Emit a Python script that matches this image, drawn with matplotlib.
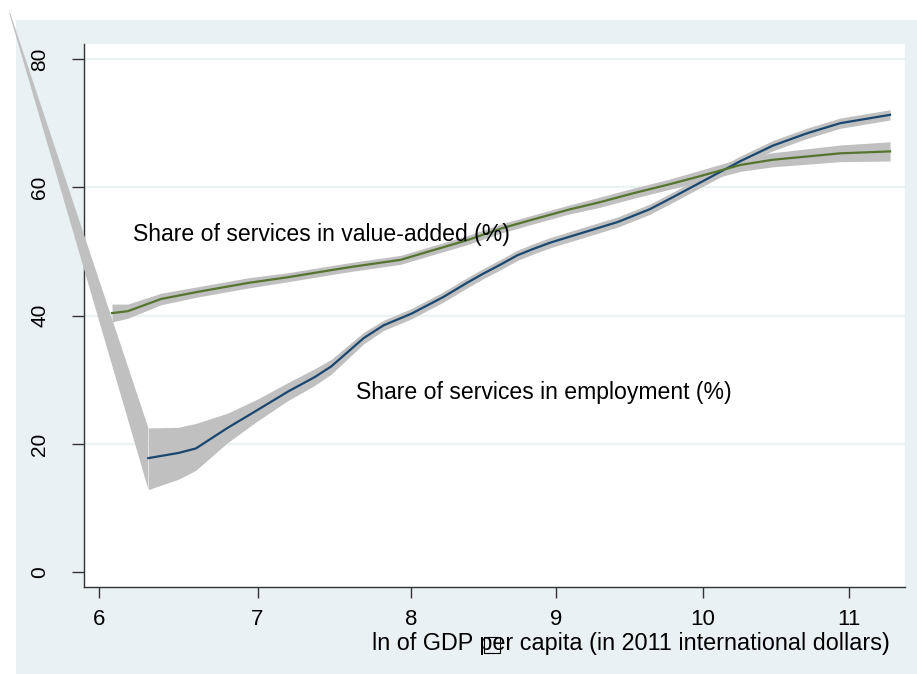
import numpy as np
import matplotlib.pyplot as plt
from matplotlib.patches import Rectangle

plt.rcParams['font.family'] = ['Liberation Sans', 'DejaVu Sans']

# tick positions of the original x axis are not evenly spaced
x_ticks = [6, 7, 8, 9, 10, 11]
x_knots = [5, 6, 7, 8, 9, 10, 11, 12]
x_pos = [-60.1, 98.3, 256.7, 410.7, 556.0, 702.3, 849.0, 995.7]

# share of services in employment (%)
emp_x = [6.31, 6.50, 6.61, 6.81, 7.00, 7.20, 7.37, 7.48, 7.69, 7.82, 8.00, 8.22,
         8.39, 8.50, 8.61, 8.73, 8.84, 8.96, 9.19, 9.42, 9.64, 9.80, 10.03,
         10.26, 10.48, 10.71, 10.94, 11.28]
emp_y = [17.8, 18.6, 19.3, 22.5, 25.3, 28.2, 30.4, 32.1, 36.5, 38.5, 40.3, 42.9,
         45.2, 46.6, 47.9, 49.4, 50.4, 51.4, 53.0, 54.6, 56.6, 58.5, 61.3,
         64.1, 66.5, 68.4, 70.0, 71.3]
emp_se_lo = [4.9, 4.1, 3.4, 2.3, 1.7, 1.4, 1.3, 1.2, 0.9, 0.8, 0.8, 0.8,
             0.8, 0.8, 0.8, 0.8, 0.8, 0.8, 0.8, 0.8, 0.8, 0.8, 0.8,
             0.8, 0.8, 0.8, 0.8, 0.8]
emp_se_hi = [4.7, 4.0, 3.9, 2.3, 1.7, 1.4, 1.3, 1.1, 0.9, 0.8, 0.8, 0.8,
             0.8, 0.8, 0.8, 0.8, 0.8, 0.8, 0.8, 0.8, 0.8, 0.8, 0.8,
             0.8, 0.8, 0.8, 0.8, 0.8]

# left tail of the employment confidence band (upper and lower edge)
tail_x_hi = [5.436, 6.31]
tail_hi = [87.2, 22.5]
tail_x_lo = [5.430, 6.31]
tail_lo = [87.2, 12.9]

# share of services in value-added (%)
va_x = [6.08, 6.18, 6.39, 6.62, 6.94, 7.20, 7.48, 7.61, 7.93, 8.15, 8.39,
        8.62, 8.84, 9.08, 9.30, 9.53, 9.76, 9.96, 10.26, 10.48, 10.71,
        10.94, 11.28]
va_y = [40.4, 40.7, 42.6, 43.7, 45.1, 46.0, 47.1, 47.6, 48.7, 50.2, 51.8,
        53.6, 55.0, 56.5, 57.7, 59.1, 60.4, 61.6, 63.5, 64.3, 64.8,
        65.3, 65.6]
va_se = [1.4, 1.1, 0.9, 0.8, 0.8, 0.7, 0.7, 0.7, 0.7, 0.7, 0.7,
         0.7, 0.7, 0.7, 0.8, 0.8, 0.8, 0.9, 1.0, 1.1, 1.2,
         1.3, 1.5]

y_ticks = [0, 20, 40, 60, 80]
grid_y = [20, 40, 60, 80]


def fwd(v):
    return np.interp(v, x_knots, x_pos)


def inv(p):
    return np.interp(p, x_pos, x_knots)


bg = '#E9F1F3'
band = '#C0C0C0'
fig = plt.figure(figsize=(9.17, 6.74), dpi=100, facecolor='white')
fig.patches.append(Rectangle((16 / 917, 0), 1, (674 - 20) / 674,
                             transform=fig.transFigure, facecolor=bg,
                             edgecolor='none', zorder=-5))

ax = fig.add_axes([84 / 917, 87 / 674, 821 / 917, 543 / 674])
ax.set_facecolor('white')
ax.set_xscale('function', functions=(fwd, inv))
ax.set_xlim(5.903, 11.382)
ax.set_ylim(-2.29, 82.34)

# confidence bands
ax.fill(tail_x_hi + tail_x_lo[::-1], tail_hi + tail_lo[::-1], color=band,
        lw=0, clip_on=False, zorder=3)
emp_lo = np.array(emp_y) - np.array(emp_se_lo)
emp_hi = np.array(emp_y) + np.array(emp_se_hi)
ax.fill_between(emp_x, emp_lo, emp_hi, color=band, lw=0, zorder=3)
va_lo = np.array(va_y) - np.array(va_se)
va_hi = np.array(va_y) + np.array(va_se)
ax.fill_between(va_x, va_lo, va_hi, color=band, lw=0, zorder=3)

ax.plot(emp_x, emp_y, color='#1A476F', lw=1.6, zorder=4)
ax.plot(va_x, va_y, color='#55752F', lw=1.6, zorder=4)

for yv in grid_y:
    ax.axhline(yv, color='#EAF2F3', lw=1.6, zorder=1)

ax.text(6.21, 52.6, 'Share of services in value-added (%)', fontsize=16.6,
        va='center', ha='left', zorder=5)
ax.text(7.64, 28.1, 'Share of services in employment (%)', fontsize=16.6,
        va='center', ha='left', zorder=5)

ax.set_xticks(x_ticks)
ax.set_xticklabels([str(t) for t in x_ticks])
ax.set_yticks(y_ticks)
ax.set_yticklabels([str(t) for t in y_ticks], rotation=90, va='center')
ax.xaxis.set_minor_locator(plt.NullLocator())
ax.tick_params(axis='x', length=8, width=1, color='#333333', labelsize=16, pad=8)
ax.tick_params(axis='y', length=9, width=1, color='#333333', labelsize=15, pad=16)
ax.yaxis.set_zorder(3.5)
for s in ['top', 'right']:
    ax.spines[s].set_visible(False)
for s in ['left', 'bottom']:
    ax.spines[s].set_color('#333333')
    ax.spines[s].set_linewidth(1)

fs = 16.8
label = 'ln of GDP per capita (in 2011 international dollars)'
xl = fig.text(890 / 917, 24 / 674, label, fontsize=fs, ha='right', va='baseline')

# box drawn over the "p", as in the original export
fig.canvas.draw()
r = fig.canvas.get_renderer()
bb = xl.get_window_extent(r)
tmp = fig.text(0, 0, 'ln of GDP p', fontsize=fs)
w1 = tmp.get_window_extent(r).width
tmp.set_text('p')
w2 = tmp.get_window_extent(r).width
tmp.remove()
em = fs * 100 / 72
x0 = bb.x0 + w1 - w2 + 4
base = 26
fig.patches.append(Rectangle((x0 / 917, (base - 0.23 * em) / 674),
                             0.69 * em / 917, 0.69 * em / 674,
                             transform=fig.transFigure, facecolor='none',
                             edgecolor='black', lw=0.8, zorder=5))

fig.savefig('out.png', dpi=100, facecolor='white')
